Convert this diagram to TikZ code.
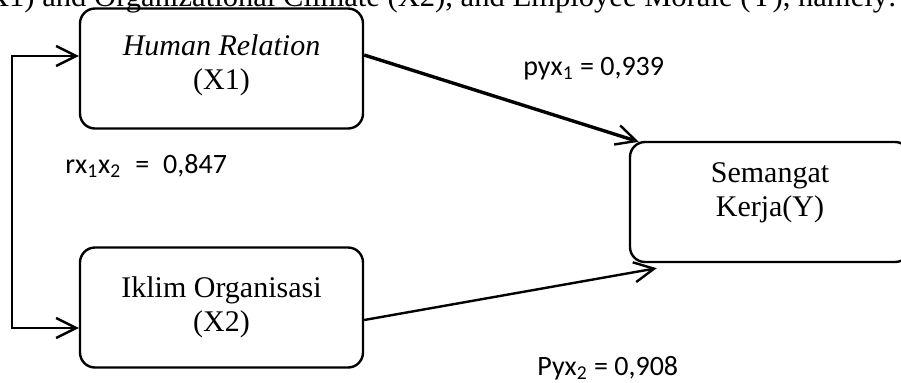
\documentclass[tikz,border=0pt]{standalone}
\usepackage{fontspec}
\setmainfont{Liberation Serif}
\newfontfamily\calibri{Carlito}
\usetikzlibrary{arrows.meta, positioning}

\begin{document}
\begin{tikzpicture}[x=0.5pt, y=-0.5pt,
    box/.style={rectangle, draw, line width=1.2pt, rounded corners=7.5pt, minimum width=141.5pt, minimum height=60pt, align=center, font=\fontsize{15}{17}\selectfont},
    arrow/.style={-{Straight Barb[length=10pt, width=10pt, line width=1.2pt]}, line width=1.2pt},
    coef/.style={font=\calibri\fontsize{14}{16}\selectfont, inner sep=0pt}
]
    \useasboundingbox (0,0) rectangle (901,382);

    % Text above
    \node[anchor=base east, inner sep=0pt, font=\fontsize{15.3}{17}\selectfont] (intro) at (897,6) {(X1) and Organizational Climate (X2), and Employee Morale (Y), namely:};

    % Boxes
    \node[box, text depth=6.7pt] (human) at (221.5,68.5) {\textit{Human Relation}\\(X1)};
    \node[box] (iklim) at (221.5,307.5) {Iklim Organisasi\\(X2)};
    \node[box, minimum width=140pt, text depth=12.7pt] (semangat) at (770,202) {Semangat\\Kerja(Y)};

    % Arrows
    \draw[arrow, line width=1.7pt] ([yshift=6.75pt]human.east) -- ([xshift=5pt, yshift=-0.5pt]semangat.north west);
    \draw[arrow] ([yshift=-6.25pt]iklim.east) -- ([xshift=14pt, yshift=-2.5pt]semangat.south west);
    \draw[{Straight Barb[length=10pt, width=10pt, line width=1.2pt]}-{Straight Barb[length=10pt, width=10pt, line width=1.2pt]}, line width=1.2pt]
        ([yshift=6.25pt]human.west) -- ++(-67,0) |- ([yshift=-10.25pt]iklim.west);

    % Coefficients
    \node[coef, anchor=base west] (r12) at (65,173) {rx\textsubscript{1}x\textsubscript{2}\enspace=\enspace0,847};
    \node[coef, anchor=base west] (p1) at (523,75) {pyx\textsubscript{1} = 0,939};
    \node[coef, anchor=base west] (p2) at (537,375) {Pyx\textsubscript{2} = 0,908};
\end{tikzpicture}
\end{document}
